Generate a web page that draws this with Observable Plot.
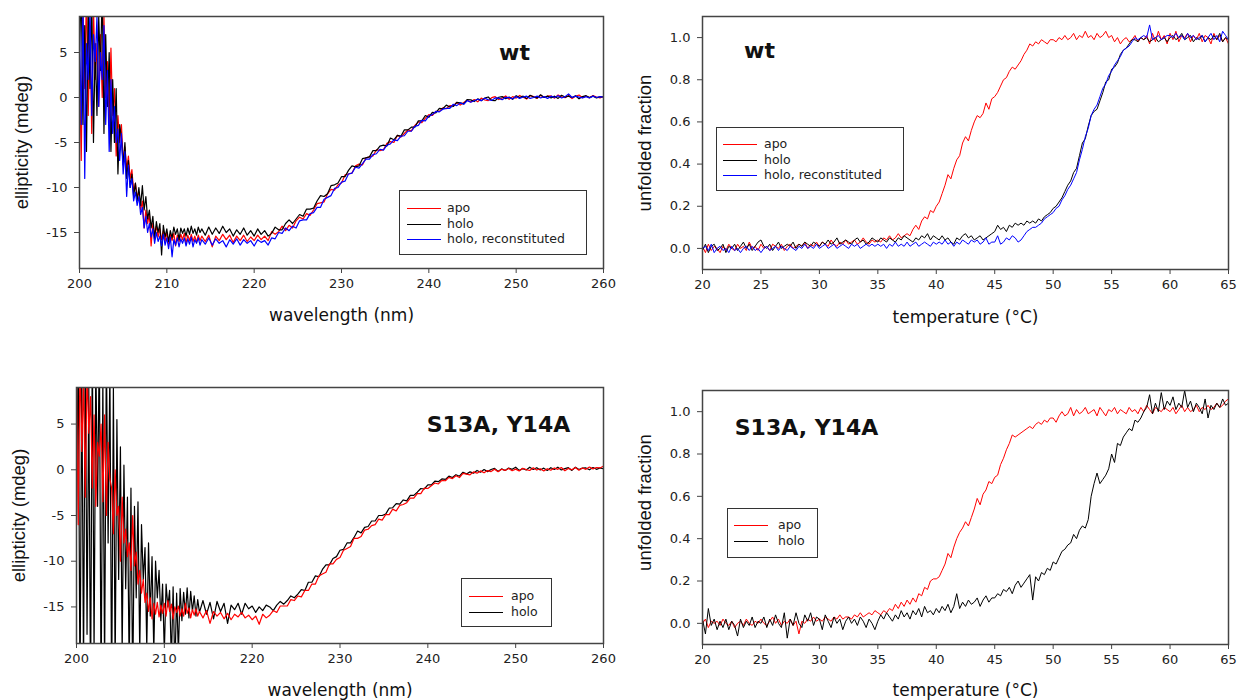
<!DOCTYPE html>
<html><head><meta charset="utf-8">
<script src="https://cdn.jsdelivr.net/npm/d3@7"></script>
<script src="https://cdn.jsdelivr.net/npm/@observablehq/plot@0.6"></script>
<style>
html,body{margin:0;padding:0;background:#fff;}
#wrap{position:relative;width:1237px;height:700px;overflow:hidden;background:#fff;}
.legend{position:absolute;border:1px solid #333;background:#fff;font:12.5px "DejaVu Sans",sans-serif;color:#222;box-sizing:border-box;}
.legend .row{position:absolute;height:16px;line-height:16px;white-space:nowrap;}
.legend .sw{position:absolute;height:1px;}
</style></head><body><div id="wrap"></div>
<script>
// ---------- sampling grids ----------
const wavelength = [...d3.range(0, 70).map(i => +(200 + i * 0.2).toFixed(1)),
                    ...d3.range(0, 116).map(i => +(214 + i * 0.4).toFixed(1))];
const temperature = d3.range(0, 181).map(i => +(20 + i * 0.25).toFixed(2));

// ---------- CD spectra, wt (mdeg) ----------
const wtApoCD = [
 3,-7,9.5,1,12,-2,8,-4,10,2,
 6,-1,7,0,9,0,4,-3,5.5,-2,
 1,-6.5,-2,-5,-3,-7,-5.5,-8,-6.5,-9,
 -8,-10.5,-9.5,-11,-10.5,-12.5,-11.5,-14.5,-12.5,-14,
 -13,-16.5,-14,-15.2,-14.3,-15.5,-14.6,-15.8,-14.8,-16,
 -15,-16.3,-15.2,-15.9,-15.1,-16.5,-15.3,-16,-15.2,-15.8,
 -15.1,-16.2,-15.3,-15.9,-15.2,-16,-15.4,-16.1,-15.3,-15.9,
 -15.4,-16,-15.3,-16.6,-15.4,-15.9,-15.2,-15.8,-15.3,-16.1,
 -15.4,-15.9,-15.3,-16,-15.5,-15.9,-15.3,-15.8,-15.4,-15.9,
 -14.9,-15.2,-14.9,-14.3,-14.8,-14.2,-14.5,-13.7,-13.3,-13.5,
 -12.9,-13.1,-12.5,-11.8,-11.7,-11.6,-10.7,-10.2,-10.3,-9.7,
 -9.5,-8.6,-8.5,-8.4,-7.6,-7.4,-7.5,-6.7,-6.6,-6.5,
 -5.8,-5.9,-5.8,-5.1,-4.9,-5,-4.2,-4.4,-4,-3.6,
 -3.7,-3.1,-2.7,-2.8,-2.3,-1.9,-2,-1.55,-1.55,-1.15,
 -1.25,-0.9,-0.9,-0.55,-0.85,-0.55,-0.3,-0.5,-0.23,-0.48,
 -0.07,-0.28,-0.35,-0.02,0.1,-0.23,-0.05,0.17,-0.2,0.1,
 -0.07,0.23,0.03,-0.17,0.2,0.1,-0.1,0.25,0,0.15,
 0.18,-0.07,0.28,0.08,-0.02,0.23,-0.12,0.13,0.28,-0.02,
 0.16,-0.04,0.21,0.06,-0.04,0.11];
const wtHoloCD = [
 5,12,-3,8,-6,10,1,11,-5,6,
 -2,9,3,12,-4,7,-1,5,-6,2,
 -5,1,-8.5,-3,-4.5,-7.5,-5,-9,-7,-10,
 -8.5,-11,-9.5,-11.5,-10,-12,-9.8,-12.5,-11,-13.5,
 -12.5,-14.5,-13.2,-15.8,-13.8,-15,-14,-17.5,-14.2,-15.5,
 -14.6,-16,-14.8,-15.6,-14.4,-15.2,-14.6,-15.8,-14.5,-15.1,
 -14.6,-15.4,-14.5,-15.2,-14.3,-15.1,-14.6,-15.3,-14.4,-15,
 -14.6,-15.3,-14.4,-15.2,-14.5,-15.1,-14.3,-15,-14.6,-15.4,
 -14.7,-15.2,-14.5,-15.3,-14.8,-15.4,-14.6,-15.2,-14.8,-15.4,
 -15.1,-14.4,-14.7,-14.7,-14,-13.6,-14,-13.5,-13,-13.2,
 -12.4,-12.4,-12.3,-11.5,-10.9,-11,-10.7,-9.8,-9.7,-9.5,
 -8.8,-8.8,-8.1,-7.6,-7.7,-7.6,-6.8,-6.7,-6.6,-5.9,
 -5.9,-5.4,-5.3,-5.4,-4.5,-4.7,-4.2,-4.3,-3.6,-3.6,
 -3.3,-3.3,-2.6,-2.6,-2,-2.2,-1.65,-1.7,-1.2,-1.25,
 -0.85,-1.05,-1,-0.55,-0.6,-0.7,-0.22,-0.26,-0.45,-0.15,
 -0.35,-0.07,0.06,-0.32,-0.35,0.03,0.1,-0.13,0.05,-0.2,
 0.2,0,0.15,-0.1,0.25,0.05,-0.05,0.3,0,0.15,
 -0.05,0.15,-0.1,0.25,0.05,0.15,0,0.2,-0.15,0.1,
 0.2,0,0.15,-0.05,0.1,0.05];
const wtReconCD = [
 8,-3,11,-9,6,2,10,-2,7,4,
 9,-1,5,2,8,-3,3,-6,2,-4,
 -1,-5,-3.5,-7,-4,-8.5,-6,-11,-7.5,-10,
 -9,-11.5,-10.5,-12,-11,-13,-12.2,-14.5,-13.2,-15,
 -14,-15.5,-14.6,-16.2,-15,-16,-15.4,-16.5,-15.2,-16.4,
 -15.6,-16.8,-15.5,-17.7,-15.8,-16.4,-15.6,-16.6,-15.7,-16.2,
 -15.6,-16.5,-15.7,-16.3,-15.5,-16.6,-15.8,-16.2,-15.6,-16.4,
 -15.8,-16.3,-15.6,-16.4,-15.7,-16.2,-15.9,-16.6,-15.8,-16.3,
 -15.7,-16.4,-15.8,-16.2,-15.9,-16.5,-15.8,-16.1,-15.9,-16.4,
 -15.6,-15.7,-15,-15.1,-14.5,-14.8,-14.3,-14.5,-13.7,-13.6,
 -13.6,-12.9,-12.8,-12.2,-12.2,-11.3,-11.1,-10.9,-10.1,-10,
 -9.4,-9.3,-8.5,-8.4,-7.75,-7.85,-7.35,-6.85,-6.85,-6.35,
 -6.25,-5.75,-5.85,-5.3,-5.15,-4.7,-4.8,-4.3,-4.25,-3.75,
 -3.75,-3.2,-3.1,-2.55,-2.6,-2.05,-1.9,-1.55,-1.6,-1.3,
 -1.2,-1.2,-0.75,-0.9,-0.6,-0.75,-0.35,-0.52,-0.36,-0.2,
 -0.35,-0.07,-0.25,-0.32,-0.05,-0.07,-0.25,0.02,-0.01,-0.15,
 0.1,-0.1,0.05,0.15,-0.1,0,0.15,-0.05,0.1,-0.1,
 0.15,0,0.2,-0.05,0.1,0.4,0,0.15,0.05,-0.05,
 0.1,-0.05,0.15,0,0.1,0.05];

// ---------- CD spectra, S13A, Y14A (mdeg) ----------
const mutApoCD = [
 9.5,-6,12,2,10,-3,11,4,8,-2,
 6,-4,3,1.5,5,-3.5,6,-5,3,-1,
 -2,-7,0,-5,-4,-10,-3,-8,-6.5,-9.5,
 -8,-11,-5,-10.5,-9,-12.5,-11,-13.5,-12,-14.5,
 -13.5,-15.5,-14,-16.3,-14.6,-15.8,-14.5,-16.1,-14.8,-15.7,
 -14.6,-16,-14.3,-15.5,-14.7,-16.3,-15,-15.6,-14.9,-16,
 -15.2,-16,-14.6,-15.7,-15.1,-16.2,-15.3,-15.9,-15.2,-16,
 -15.5,-16.2,-15.4,-16.8,-15.5,-16,-15.6,-16.3,-15.7,-16.4,
 -15.8,-16.1,-15.6,-16.2,-15.9,-16.4,-16,-16.9,-15.8,-16.2,
 -15.9,-15.4,-15.6,-14.9,-14.9,-14.9,-14.2,-14.3,-13.8,-13.9,
 -13.2,-13.2,-12.5,-12.5,-11.6,-11.4,-11.2,-10.3,-10.3,-9.8,
 -9.6,-8.8,-8.6,-8.4,-7.5,-7.5,-7.3,-6.6,-6.5,-6.1,
 -6,-5.4,-5.5,-4.9,-4.9,-4.3,-4.5,-3.9,-3.8,-3.6,
 -3.1,-3.1,-2.6,-2.6,-2,-2.05,-1.75,-1.45,-1.55,-1.15,
 -1.2,-0.83,-0.96,-0.65,-0.85,-0.4,-0.47,-0.55,-0.23,-0.37,
 -0.12,-0.33,-0.09,-0.2,0.07,-0.21,0.06,-0.07,0.15,-0.1,
 0.07,-0.13,0.17,0.02,-0.08,0.22,-0.03,0.12,-0.13,0.12,
 -0.05,0.2,0.05,0.25,-0.1,0.15,0,0.25,-0.05,0.2,
 0.05,0.3,0.1,0.25,0.2,0.4];
const mutHoloCD = [
 -6,14,-25,12,-22,15,-18,9,-25,14,
 -20,12,-4,14,-25,10,-22,13,-8,11,
 -25,9,-22,5.5,-12,2.5,-20,0.5,-13,-3,
 -22,-2,-24,-4,-14,-3.5,-20,-6,-12,-8.5,
 -19.5,-8,-16,-9.5,-20,-10,-14,-11,-16.5,-12.5,
 -20,-12.5,-15,-13.2,-21,-12.8,-22,-13.5,-20,-13,
 -16.5,-13.4,-15.8,-12.9,-16.2,-13.3,-15.5,-13.8,-16,-14.2,
 -15.6,-14.3,-15.8,-14.5,-16.3,-14.4,-15.5,-14.6,-16.8,-14.8,
 -15.3,-14.6,-15.8,-14.6,-15.2,-14.9,-15.6,-15,-15.4,-14.8,
 -15,-15.4,-14.8,-14.4,-14.7,-14.3,-13.8,-14,-13.6,-13.1,
 -13.2,-12.3,-12.3,-11.6,-11.7,-10.9,-10.4,-10.4,-9.7,-9.5,
 -8.8,-8.7,-8,-8,-7.4,-6.7,-6.9,-6.3,-6.2,-5.6,
 -5.6,-5,-5,-4.85,-4.2,-4.15,-3.7,-3.75,-3.3,-3.4,
 -2.8,-2.8,-2.45,-2.05,-2.1,-1.65,-1.65,-1.25,-1.3,-1,
 -1.05,-0.7,-0.84,-0.54,-0.7,-0.27,-0.45,-0.23,-0.37,-0.07,
 -0.27,0.02,-0.2,0.03,0.15,-0.18,0.1,-0.08,0.19,0.05,
 0.28,-0.07,0.13,-0.02,0.28,0.03,0.23,-0.02,0.18,-0.07,
 0.23,0.03,0.28,-0.02,0.13,0.23,-0.07,0.28,0.03,0.18,
 0.2,0,0.25,0.05,0.2,0.1];

// ---------- thermal unfolding, wt (unfolded fraction) ----------
const wtApoMelt = [
 0.01,-0.02,0.02,-0.01,0.01,0,-0.02,0.01,-0.01,0.02,
 0,-0.01,0.02,0,0.01,-0.01,0.03,0,0.01,-0.01,
 0.02,0,0.01,-0.01,0.02,0.01,0,0.02,-0.01,0.01,
 0.02,0,0.01,0.02,0.01,0.03,0,0.02,0.01,0.03,
 0.01,0.03,0.02,0.01,0.04,0.02,0.01,0.03,0.02,0.04,
 0.02,0.03,0.04,0.02,0.03,0.05,0.03,0.02,0.04,0.03,
 0.04,0.03,0.05,0.04,0.06,0.04,0.05,0.07,0.05,0.06,
 0.07,0.06,0.09,0.11,0.09,0.13,0.15,0.14,0.18,0.17,
 0.2,0.22,0.26,0.3,0.35,0.33,0.38,0.42,0.44,0.5,
 0.53,0.51,0.56,0.6,0.63,0.62,0.64,0.69,0.66,0.71,
 0.72,0.74,0.77,0.8,0.81,0.84,0.86,0.85,0.87,0.89,
 0.92,0.94,0.97,0.96,0.98,0.97,0.99,0.98,0.97,0.99,
 0.99,0.98,1,0.99,1.01,0.99,1,1.02,0.99,1.01,
 1,1.03,1,1.01,0.99,1.02,1,1.01,1.03,1,
 1.01,0.98,1,0.97,0.99,1,0.98,0.99,1.01,0.98,
 1,0.99,1.01,0.97,1.02,0.98,1.03,0.99,1.01,0.97,
 1.02,0.99,1.03,0.98,1.01,1,1.02,0.98,1.01,0.99,
 1.02,0.98,1.01,1,0.97,1.02,0.99,1.01,0.98,1,
 0.97];
const wtHoloMelt = [
 -0.01,0.02,-0.02,0.01,0.02,-0.01,0,0.02,-0.02,0.01,
 0,0.02,-0.01,0.01,0.03,0,0.02,-0.01,0.01,0.03,
 0.04,0.01,0,0.02,-0.01,0.01,0.03,0,0.01,0.02,
 0.01,0.03,0,0.02,0.01,0.03,0.02,0.01,0.03,0.02,
 0.01,0.03,0.02,0.04,0.02,0.03,0.05,0.02,0.03,0.04,
 0.03,0.02,0.04,0.05,0.03,0.04,0.02,0.03,0.05,0.04,
 0.03,0.05,0.04,0.03,0.05,0.04,0.03,0.05,0.04,0.06,
 0.05,0.04,0.03,0.05,0.04,0.06,0.05,0.07,0.04,0.06,
 0.05,0.04,0.06,0.04,0.05,0.03,0.02,0.05,0.04,0.06,
 0.07,0.05,0.06,0.04,0.05,0.06,0.04,0.05,0.06,0.07,
 0.08,0.11,0.09,0.1,0.08,0.11,0.1,0.12,0.11,0.12,
 0.11,0.13,0.12,0.13,0.12,0.14,0.13,0.15,0.16,0.17,
 0.19,0.2,0.22,0.24,0.27,0.3,0.32,0.36,0.38,0.44,
 0.5,0.52,0.58,0.63,0.65,0.66,0.7,0.74,0.79,0.8,
 0.85,0.86,0.88,0.92,0.94,0.95,0.97,0.99,0.99,0.98,
 1,0.99,1,0.98,0.99,1,0.98,0.99,1,0.98,
 1,1.01,0.99,1,1.02,0.99,1,1.01,0.98,1,
 0.99,1.01,0.98,1,0.99,1.01,0.99,1.02,0.98,1,
 0.99];
const wtReconMelt = [
 0,0.01,-0.01,0.02,-0.02,0,0.01,-0.01,0,-0.02,
 0.01,-0.01,0,-0.02,0,0.01,-0.01,0.01,-0.01,0,
 -0.02,0,0.01,-0.01,0,0.01,-0.01,0.01,0,-0.01,
 0.01,0,-0.01,0.01,0,0.02,0,0.01,0,0.02,
 0,0.01,0.02,0,0.01,0.02,0,0.01,0.02,0.01,
 0,0.02,0.01,0.02,0,0.01,0.02,0.01,0.02,0.01,
 0.02,0.01,0.02,0,0.02,0.01,0.03,0.01,0.02,0.01,
 0.03,0.01,0.02,0.03,0.01,0.02,0.03,0.02,0.01,0.03,
 0.02,0.03,0.02,0.04,0.02,0.03,0.01,0.03,0.02,0.04,
 0.03,0.02,0.04,0.03,0.04,0.02,0.03,0.05,0.02,0.03,
 0.03,0.06,0.02,0.03,0.05,0.04,0.06,0.05,0.03,0.04,
 0.06,0.08,0.09,0.1,0.1,0.11,0.12,0.14,0.15,0.16,
 0.17,0.19,0.2,0.23,0.25,0.28,0.3,0.33,0.36,0.42,
 0.47,0.53,0.57,0.63,0.66,0.68,0.72,0.76,0.78,0.82,
 0.84,0.87,0.89,0.91,0.94,0.95,0.96,0.98,1,0.99,
 1,1.01,1,1.06,0.99,1,1.01,0.99,1,1.01,
 1.01,1,1.02,1,1.01,0.99,1.02,1,1.01,0.99,
 1,1.01,0.98,1,1.02,0.99,1.01,0.98,1.03,1.01,
 0.99];

// ---------- thermal unfolding, S13A, Y14A ----------
const mutApoMelt = [
 0,0.02,-0.02,0.01,0,0.01,-0.01,0.02,0,-0.01,
 0.01,-0.02,0,0.01,-0.01,0.02,0,-0.01,0.01,0,
 0.02,0,-0.01,0.01,0.03,0,0.02,-0.01,0.01,0,
 0.02,-0.01,0.01,-0.05,0.01,0,0.02,0.01,0.03,0.01,
 0.02,0.01,0.03,0.02,0.01,0.03,0.02,0.04,0.02,0.03,
 0.03,0.02,0.04,0.03,0.05,0.03,0.04,0.05,0.04,0.06,
 0.05,0.04,0.06,0.05,0.07,0.06,0.09,0.07,0.1,0.08,
 0.11,0.09,0.12,0.1,0.14,0.13,0.17,0.16,0.2,0.21,
 0.21,0.22,0.25,0.28,0.33,0.31,0.36,0.4,0.43,0.45,
 0.48,0.46,0.5,0.54,0.59,0.56,0.61,0.63,0.67,0.66,
 0.69,0.7,0.75,0.78,0.82,0.85,0.89,0.88,0.89,0.9,
 0.91,0.92,0.93,0.92,0.94,0.95,0.94,0.96,0.95,0.97,
 0.97,0.95,0.98,1,0.98,0.99,1.02,0.98,1.01,0.99,
 1,1.02,0.99,1,1.01,0.98,1.02,1,0.98,1.01,
 1,1.02,0.99,1.01,1,0.99,1.02,1,1.01,0.99,
 1.02,1,1.03,1.01,0.99,1.02,1.01,1,1.02,1.01,
 1,1.02,0.99,1.01,1.03,1,1.02,1,1.01,1.03,
 1,1.02,1.01,1.03,1.01,1.02,1.04,1.02,1.03,1.05,
 1.06];
const mutHoloMelt = [
 0.02,-0.05,0.07,-0.01,0.02,-0.03,0.01,-0.02,0.02,-0.03,
 0.01,-0.01,-0.06,0.02,-0.02,0.01,-0.01,0.03,-0.02,0.01,
 0,0.03,-0.02,0.02,-0.01,0.04,0,-0.02,0.05,-0.07,
 0.02,-0.01,0.05,0,-0.02,0.04,0.01,0.05,-0.01,0.03,
 0.02,-0.03,0.04,0.01,-0.02,0.03,0,0.02,-0.03,0.01,
 0.03,0,0.02,-0.01,0.03,0.01,-0.02,0.02,0,-0.03,
 0.01,0.04,0.02,0.05,0.03,0.01,0.04,0.02,0.06,0.03,
 0.05,0.02,0.06,0.04,0.07,0.03,0.08,0.05,0.06,0.04,
 0.07,0.05,0.08,0.06,0.09,0.05,0.08,0.14,0.07,0.1,
 0.08,0.11,0.09,0.1,0.12,0.08,0.11,0.13,0.1,0.12,
 0.12,0.14,0.13,0.16,0.15,0.17,0.14,0.18,0.2,0.17,
 0.19,0.21,0.23,0.11,0.22,0.2,0.24,0.23,0.26,0.25,
 0.29,0.28,0.31,0.34,0.35,0.37,0.38,0.42,0.4,0.44,
 0.46,0.45,0.49,0.6,0.66,0.71,0.66,0.68,0.7,0.73,
 0.8,0.76,0.85,0.84,0.88,0.9,0.92,0.91,0.96,0.95,
 0.97,1,1.02,1.08,0.99,1.04,1,1.09,1.01,1.05,
 1.03,1.07,1.01,1.04,1.02,1.1,1.02,1.05,1,1.04,
 1.02,0.99,1.06,0.97,1.03,1.01,1.04,1.02,1.06,1.03,
 1.04];

// ---------- ticks / labels ----------
const cdXTicks = [200, 210, 220, 230, 240, 250, 260];
const cdYTicks = [-15, -10, -5, 0, 5];
const meltXTicks = [20, 25, 30, 35, 40, 45, 50, 55, 60, 65];
const meltYTicks = [0, 0.2, 0.4, 0.6, 0.8, 1.0];
const RED = "#ff0000", BLACK = "#000000", BLUE = "#0000ff";

const wrap = document.getElementById("wrap");

function series(xs, ys) {
  const n = Math.min(xs.length, ys.length);
  return d3.range(n).map(i => ({x: xs[i], y: ys[i]}));
}

function panel(o) {
  const marks = [];
  for (const s of o.series) {
    marks.push(Plot.line(series(o.xs, s.ys), {x: "x", y: "y", stroke: s.color, strokeWidth: o.sw, clip: true}));
  }
  marks.push(
    Plot.frame({stroke: "#444", strokeWidth: 1.5}),
    Plot.axisX({ticks: o.xTicks, tickSize: 5, tickPadding: 5, label: null, stroke: "#444", fill: "#222", fontSize: 13, tickFormat: d => String(d)}),
    Plot.axisY({ticks: o.yTicks, tickSize: 5, tickPadding: 7, label: null, stroke: "#444", fill: "#222", fontSize: 13, tickFormat: o.yFormat}),
    Plot.text([o.xLabel], {text: d => d, frameAnchor: "bottom", dy: o.xLabelDy, textAnchor: "middle", lineAnchor: "middle", fontSize: 17, fill: "#111", fontFamily: "DejaVu Sans"}),
    Plot.text([o.yLabel], {text: d => d, frameAnchor: "left", dx: -57, dy: o.yLabelDy || 0, rotate: -90, textAnchor: "middle", lineAnchor: "middle", fontSize: 18.5, fill: "#111", fontFamily: "Liberation Sans"}),
    Plot.text([o.title], {text: d => d, frameAnchor: o.titleAnchor, dx: o.titleDx, dy: o.titleDy, textAnchor: "middle", lineAnchor: "middle", fontSize: 22, fontWeight: "bold", fill: "#111", fontFamily: "DejaVu Sans"})
  );
  const svg = Plot.plot({
    width: o.w, height: o.h,
    marginLeft: o.ml, marginRight: o.mr, marginTop: o.mt, marginBottom: o.mb,
    x: {domain: o.xDomain},
    y: {domain: o.yDomain},
    style: {fontFamily: "DejaVu Sans", fontSize: "13px", color: "#222", background: "transparent", overflow: "visible"},
    marks
  });
  svg.style.position = "absolute";
  svg.style.left = o.left + "px";
  svg.style.top = o.top + "px";
  wrap.appendChild(svg);

  const lg = document.createElement("div");
  lg.className = "legend";
  Object.assign(lg.style, {left: o.legend.left + "px", top: o.legend.top + "px", width: o.legend.w + "px", height: o.legend.h + "px"});
  o.series.slice().sort((a, b) => a.order - b.order).forEach((s, i) => {
    const cy = Math.round(o.legend.row0 + i * o.legend.step);
    const sw = document.createElement("div");
    sw.className = "sw";
    Object.assign(sw.style, {left: o.legend.lineX + "px", width: "34px", top: cy + "px", background: s.color});
    const tx = document.createElement("div");
    tx.className = "row";
    tx.textContent = s.name;
    Object.assign(tx.style, {left: o.legend.textX + "px", top: (cy - 8) + "px"});
    lg.appendChild(sw); lg.appendChild(tx);
  });
  wrap.appendChild(lg);
}

const cdFmt = d => String(d);
const meltFmt = d3.format(".1f");

panel({left: 0, top: 0, w: 620, h: 350, ml: 79, mr: 17, mt: 16, mb: 82, sw: 1.2,
  xs: wavelength, xDomain: [200, 260], yDomain: [-19, 9], xTicks: cdXTicks, yTicks: cdYTicks, yFormat: cdFmt,
  series: [{name: "apo", color: RED, ys: wtApoCD, order: 0}, {name: "holo", color: BLACK, ys: wtHoloCD, order: 1}, {name: "holo, reconstituted", color: BLUE, ys: wtReconCD, order: 2}],
  xLabel: "wavelength (nm)", xLabelDy: 47, yLabel: "ellipticity (mdeg)",
  title: "wt", titleAnchor: "top-right", titleDx: -89, titleDy: 36,
  legend: {left: 399, top: 190, w: 188, h: 65, row0: 17, step: 15.5, lineX: 7, textX: 47}});

panel({left: 620, top: 0, w: 617, h: 350, ml: 82, mr: 9, mt: 16, mb: 81, sw: 1,
  xs: temperature, xDomain: [20, 65], yDomain: [-0.1, 1.1], xTicks: meltXTicks, yTicks: meltYTicks, yFormat: meltFmt,
  series: [{name: "apo", color: RED, ys: wtApoMelt, order: 0}, {name: "holo", color: BLACK, ys: wtHoloMelt, order: 1}, {name: "holo, reconstituted", color: BLUE, ys: wtReconMelt, order: 2}],
  xLabel: "temperature (°C)", xLabelDy: 48, yLabel: "unfolded fraction",
  title: "wt", titleAnchor: "top-left", titleDx: 57, titleDy: 34,
  legend: {left: 716, top: 127, w: 188, h: 64, row0: 16, step: 15.5, lineX: 6, textX: 47}});

panel({left: 0, top: 350, w: 620, h: 350, ml: 76, mr: 17, mt: 37, mb: 57, sw: 1.2,
  xs: wavelength, xDomain: [200, 260], yDomain: [-19, 9], xTicks: cdXTicks, yTicks: cdYTicks, yFormat: cdFmt,
  series: [{name: "holo", color: BLACK, ys: mutHoloCD, order: 1}, {name: "apo", color: RED, ys: mutApoCD, order: 0}],
  xLabel: "wavelength (nm)", xLabelDy: 47, yLabel: "ellipticity (mdeg)",
  title: "S13A, Y14A", titleAnchor: "top-right", titleDx: -105, titleDy: 37,
  legend: {left: 461, top: 578, w: 91, h: 49, row0: 17, step: 15.5, lineX: 7, textX: 49}});

panel({left: 620, top: 350, w: 617, h: 350, ml: 82, mr: 9, mt: 40, mb: 56, sw: 1,
  xs: temperature, xDomain: [20, 65], yDomain: [-0.1, 1.1], xTicks: meltXTicks, yTicks: meltYTicks, yFormat: meltFmt,
  series: [{name: "apo", color: RED, ys: mutApoMelt, order: 0}, {name: "holo", color: BLACK, ys: mutHoloMelt, order: 1}],
  xLabel: "temperature (°C)", xLabelDy: 46, yLabel: "unfolded fraction", yLabelDy: -15,
  title: "S13A, Y14A", titleAnchor: "top-left", titleDx: 104, titleDy: 37,
  legend: {left: 727, top: 508, w: 91, h: 50, row0: 16, step: 16, lineX: 6, textX: 50}});
</script></body></html>
